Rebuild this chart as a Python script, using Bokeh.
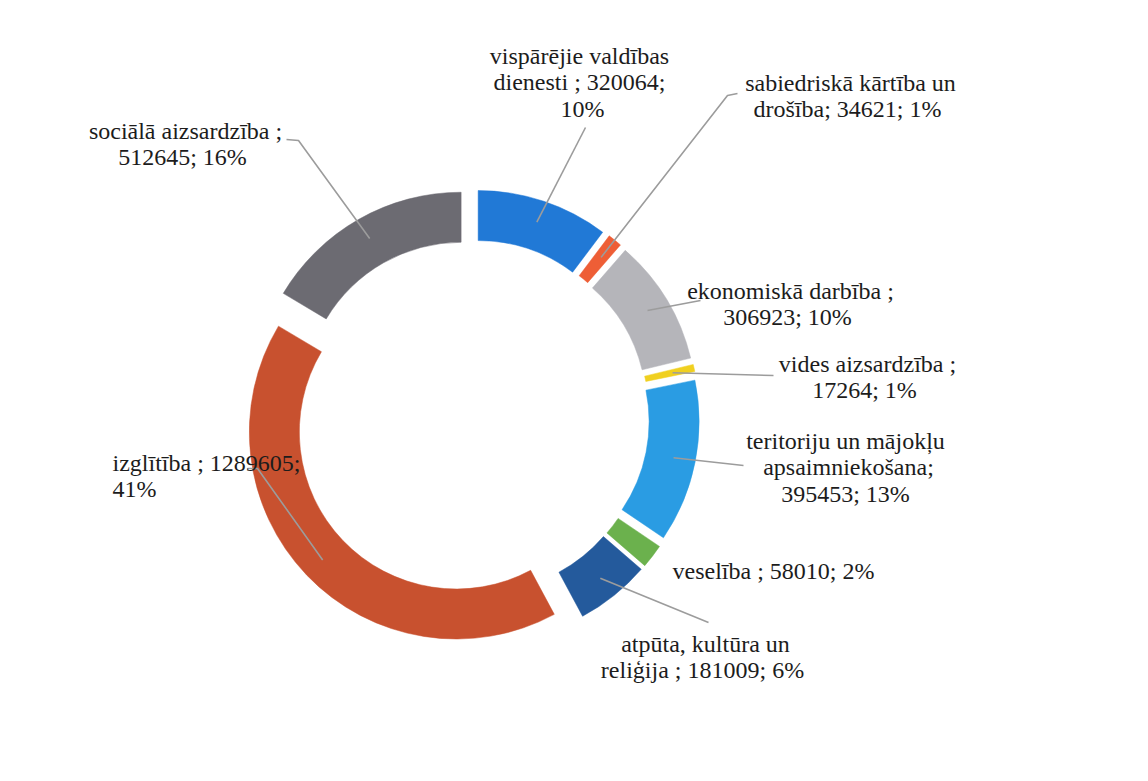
import math
from bokeh.plotting import figure
from bokeh.models import Range1d, ColumnDataSource
from bokeh.embed import file_html
from bokeh.resources import INLINE
from bokeh.core.properties import value

# ---------------- data ----------------
categories = [
    "vispārējie valdības dienesti",
    "sabiedriskā kārtība un drošība",
    "ekonomiskā darbība",
    "vides aizsardzība",
    "teritoriju un mājokļu apsaimniekošana",
    "veselība",
    "atpūta, kultūra un reliģija",
    "izglītība",
    "sociālā aizsardzība",
]
values = [320064, 34621, 306923, 17264, 395453, 58010, 181009, 1289605, 512645]
colors = ["#2179D6", "#EE5E36", "#B5B5BA", "#F0D020", "#2A9CE3",
          "#6BB14D", "#245A9C", "#C8512F", "#6C6B72"]
# label wording / line breaks as printed in the chart ({v} value, {p} percent)
label_templates = [
    ["vispārējie  valdības", "dienesti  ; {v};", "{p}%"],
    ["sabiedriskā kārtība un", "drošība; {v};  {p}%"],
    ["ekonomiskā darbība ;", "{v};  {p}%"],
    ["vides aizsardzība ;", "{v};  {p}%"],
    ["teritoriju  un mājokļu", "apsaimniekošana;", "{v};  {p}%"],
    ["veselība ; {v};  {p}%"],
    ["atpūta, kultūra  un", "reliģija  ; {v};  {p}%"],
    ["izglītība ; {v};", "{p}%"],
    ["sociālā aizsardzība ;", "{v};  {p}%"],
]

# ---------------- layout (page pixels) ----------------
W, H = 1132, 765
ORIGIN = 0                 # where the plot's top-left lands on the photographed page
CX, CY = 471, 417          # donut centre in page pixels
R_OUT, R_IN = 207, 157
EXPLODE = 21
R_LEAD = 185
LINE_H = 26.5

# label anchor (x, first line y, align), leader end points
label_pos = [
    (582, 55, "center"),
    (850, 82, "center"),
    (790, 290, "center"),
    (867, 363, "center"),
    (848, 440, "center"),
    (776, 570, "center"),
    (708, 643, "center"),
    (112, 462, "left"),
    (185, 130, "center"),
]
leader_ends = [
    [(585, 127)],
    [(727, 95), (737, 93)],
    [(700, 300)],
    [(773, 375)],
    [(743, 465)],
    [],
    [(708, 622)],
    [(257, 468), (247, 468)],
    [(298, 140), (286, 139)],
]


def dx(X):
    return X - CX


def dy(Y):
    return CY - Y


total = float(sum(values))
p = figure(width=W, height=H, output_backend="svg", toolbar_location=None,
           x_range=Range1d(dx(ORIGIN), dx(ORIGIN + W)),
           y_range=Range1d(dy(ORIGIN + H), dy(ORIGIN)),
           min_border=0, outline_line_color=None)
p.axis.visible = False
p.grid.visible = False
p.background_fill_color = "white"
p.border_fill_color = "white"

xs, ys, starts, ends, mids = [], [], [], [], []
cum = 0.0
for v in values:
    a0 = cum / total * 2 * math.pi
    cum += v
    a1 = cum / total * 2 * math.pi
    mid = (a0 + a1) / 2
    mids.append(mid)
    xs.append(EXPLODE * math.sin(mid))
    ys.append(EXPLODE * math.cos(mid))
    starts.append(math.pi / 2 - a1)
    ends.append(math.pi / 2 - a0)

src = ColumnDataSource(dict(x=xs, y=ys, s=starts, e=ends, c=colors, cat=categories))
p.annular_wedge(x="x", y="y", inner_radius=R_IN, outer_radius=R_OUT,
                start_angle="s", end_angle="e", direction="anticlock",
                fill_color="c", line_color="c", line_width=0.5, source=src)

# leader lines
lx, ly = [], []
for i, mid in enumerate(mids):
    if not leader_ends[i]:
        continue
    px = [xs[i] + R_LEAD * math.sin(mid)]
    py = [ys[i] + R_LEAD * math.cos(mid)]
    for (X, Y) in leader_ends[i]:
        px.append(dx(X))
        py.append(dy(Y))
    lx.append(px)
    ly.append(py)
p.multi_line(lx, ly, line_color="#9c9c9c", line_width=1.6)

# labels
tx, ty, tt, ta = [], [], [], []
for i, v in enumerate(values):
    pct = round(v / total * 100)
    X, Y0, al = label_pos[i]
    for k, tmpl in enumerate(label_templates[i]):
        tx.append(dx(X))
        ty.append(dy(Y0 + k * LINE_H))
        tt.append(tmpl.format(v=v, p=pct))
        ta.append(al)
tsrc = ColumnDataSource(dict(x=tx, y=ty, t=tt, a=ta))
p.text(x="x", y="y", text="t", text_align="a", text_baseline="middle",
       text_font=value("'Liberation Serif', 'Times New Roman', serif"),
       text_font_size="24px", text_color="#1c1c1c", source=tsrc)

open("out.html", "w").write(file_html(p, INLINE))
